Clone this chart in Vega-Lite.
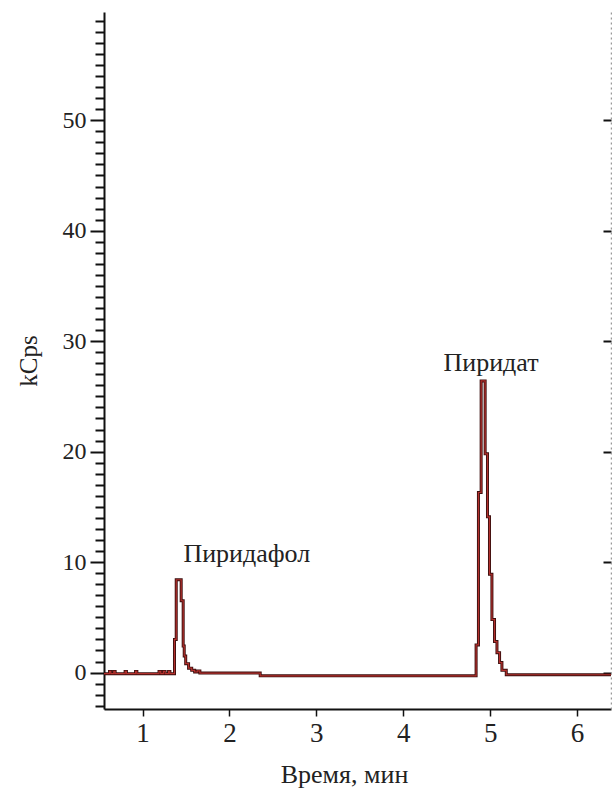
{
  "$schema": "https://vega.github.io/schema/vega-lite/v6.json",
  "autosize": {"type": "none"},
  "width": 507,
  "height": 697,
  "padding": {"left": 104, "top": 12, "right": 1, "bottom": 87},
  "background": "white",
  "config": {
    "view": {"stroke": null},
    "font": "Liberation Serif",
    "axis": {"labelFont": "Liberation Serif", "titleFont": "Liberation Serif", "labelColor": "#222", "titleColor": "#222", "titleFontWeight": "normal", "domainColor": "#111", "tickColor": "#111", "grid": false}
  },
  "datasets": {
    "trace": [
      {"t": 0.557, "v": -0.1},
      {"t": 0.62, "v": 0.1},
      {"t": 0.635, "v": -0.1},
      {"t": 0.67, "v": 0.1},
      {"t": 0.685, "v": -0.1},
      {"t": 0.80, "v": 0.1},
      {"t": 0.815, "v": -0.1},
      {"t": 0.92, "v": 0.1},
      {"t": 0.935, "v": -0.1},
      {"t": 1.19, "v": 0.1},
      {"t": 1.21, "v": -0.1},
      {"t": 1.24, "v": 0.1},
      {"t": 1.26, "v": -0.1},
      {"t": 1.30, "v": 0.1},
      {"t": 1.315, "v": -0.1},
      {"t": 1.368, "v": 3.0},
      {"t": 1.388, "v": 8.4},
      {"t": 1.445, "v": 6.5},
      {"t": 1.468, "v": 2.4},
      {"t": 1.48, "v": 1.5},
      {"t": 1.497, "v": 0.8},
      {"t": 1.53, "v": 0.4},
      {"t": 1.566, "v": 0.2},
      {"t": 1.60, "v": 0.05},
      {"t": 1.63, "v": 0.15},
      {"t": 1.66, "v": -0.05},
      {"t": 2.354, "v": -0.3},
      {"t": 4.838, "v": 2.5},
      {"t": 4.865, "v": 16.3},
      {"t": 4.896, "v": 26.4},
      {"t": 4.942, "v": 19.8},
      {"t": 4.969, "v": 14.1},
      {"t": 4.992, "v": 8.9},
      {"t": 5.020, "v": 4.8},
      {"t": 5.050, "v": 2.8},
      {"t": 5.078, "v": 1.8},
      {"t": 5.108, "v": 0.9},
      {"t": 5.135, "v": 0.2},
      {"t": 5.185, "v": -0.2},
      {"t": 6.39, "v": -0.2}
    ],
    "labels": [
      {"t": 2.2, "v": 10.7, "label": "Пиридафол"},
      {"t": 5.01, "v": 28.0, "label": "Пиридат"}
    ]
  },
  "resolve": {"axis": {"y": "independent", "x": "independent"}},
  "layer": [
    {
      "data": {"name": "trace"},
      "mark": {"type": "line", "interpolate": "step-after", "color": "#3a0e0e", "strokeWidth": 3},
      "encoding": {
        "x": {"field": "t", "type": "quantitative", "scale": {"domain": [0.557, 6.39], "nice": false, "zero": false},
          "axis": {"title": "Время, мин", "values": [1, 2, 3, 4, 5, 6], "format": "d", "orient": "bottom", "domainWidth": 2, "tickWidth": 1.5, "tickSize": 7, "labelFontSize": 27, "labelPadding": 4, "titleFontSize": 26, "titlePadding": 15, "titleX": 240}},
        "y": {"field": "v", "type": "quantitative", "scale": {"domain": [-3.3, 59.8], "nice": false, "zero": false},
          "axis": {"title": "kCps", "orient": "left", "values": [-3,-2,-1,0,1,2,3,4,5,6,7,8,9,10,11,12,13,14,15,16,17,18,19,20,21,22,23,24,25,26,27,28,29,30,31,32,33,34,35,36,37,38,39,40,41,42,43,44,45,46,47,48,49,50,51,52,53,54,55,56,57,58,59],
            "labelExpr": "datum.value % 10 === 0 ? datum.label : ''",
            "tickSize": {"condition": {"test": "datum.value % 10 === 0", "value": 14}, "value": 9},
            "tickWidth": 2, "domainWidth": 2, "labelFontSize": 24, "labelPadding": 4, "labelOverlap": false, "labelBound": false,
            "titleFontSize": 25, "titlePadding": 21}}
      }
    },
    {
      "data": {"name": "trace"},
      "mark": {"type": "line", "interpolate": "step-after", "color": "#b3302c", "strokeWidth": 1.2},
      "encoding": {
        "x": {"field": "t", "type": "quantitative", "axis": null},
        "y": {"field": "v", "type": "quantitative",
          "axis": {"title": null, "orient": "right", "values": [0, 10, 20, 30, 40, 50], "labels": false, "tickSize": -8, "tickWidth": 2, "domainColor": "#999", "domainDash": [2, 3], "domainWidth": 1.5}}
      }
    },
    {
      "data": {"name": "labels"},
      "mark": {"type": "text", "font": "Liberation Serif", "fontSize": 26, "color": "#222", "align": "center", "baseline": "middle"},
      "encoding": {
        "x": {"field": "t", "type": "quantitative", "axis": null},
        "y": {"field": "v", "type": "quantitative", "axis": null},
        "text": {"field": "label"}
      }
    }
  ]
}
